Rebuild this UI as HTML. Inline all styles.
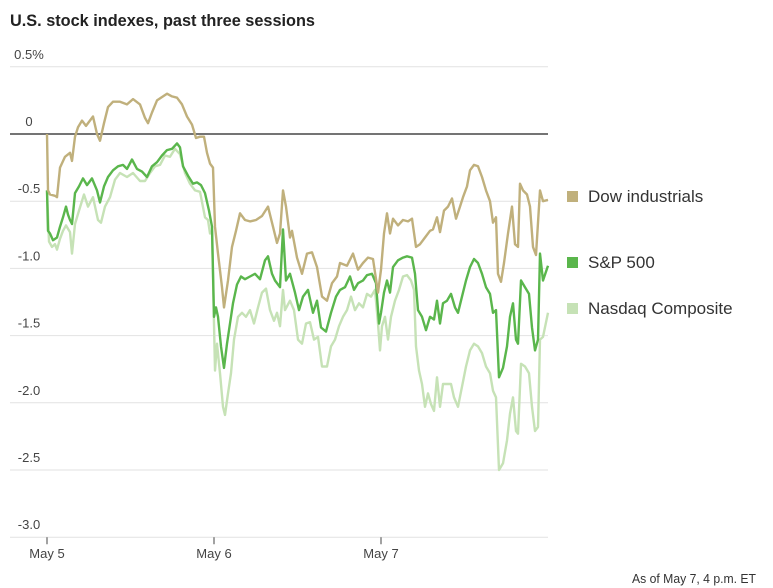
<!DOCTYPE html>
<html><head><meta charset="utf-8">
<style>
body{margin:0;background:#fff;width:773px;height:588px;overflow:hidden;font-family:"Liberation Sans Narrow","Liberation Sans",sans-serif;}
svg{display:block}
</style></head>
<body>
<svg id="chart" width="773" height="588" xmlns="http://www.w3.org/2000/svg">
<text x="10" y="26" font-size="17" font-weight="bold" fill="#222" textLength="305" lengthAdjust="spacingAndGlyphs">U.S. stock indexes, past three sessions</text>
<g id="grid"></g><g id="lines"></g><g id="legend"></g>
<text x="756" y="583" font-size="13" fill="#333" text-anchor="end" textLength="124" lengthAdjust="spacingAndGlyphs">As of May 7, 4 p.m. ET</text>
</svg>
<script>
// time in intraday sample units (0..501 across three sessions), values in %
const yTicks=[0.5,0,-0.5,-1.0,-1.5,-2.0,-2.5,-3.0];
const yTickLabels=["0.5%","0","-0.5","-1.0","-1.5","-2.0","-2.5","-3.0"];
const sessionStarts=[0,167,334];
const sessionLabels=["May 5","May 6","May 7"];
const dowT=[0,1,3,8,10,13,18,23,25,28,31,35,39,46,50,53,57,61,66,73,80,86,93,98,101,105,110,116,120,125,130,135,140,145,149,153,157,160,163,166,168,171,175,177,181,185,189,193,198,203,209,215,221,226,230,233,236,239,243,245,250,255,260,265,270,275,280,285,290,293,300,306,311,316,321,326,331,334,337,340,343,346,351,356,361,365,369,373,378,383,386,390,393,397,401,405,409,413,416,420,423,427,431,435,439,443,446,449,451,454,457,461,465,468,471,473,476,480,483,486,489,493,496,501];
const dowV=[0,-0.42,-0.45,-0.46,-0.47,-0.25,-0.17,-0.14,-0.2,-0.02,0.05,0.1,0.06,0.13,0,-0.05,0.08,0.2,0.24,0.24,0.22,0.26,0.22,0.12,0.08,0.16,0.25,0.28,0.3,0.28,0.27,0.22,0.13,0.07,-0.03,-0.02,-0.02,-0.14,-0.22,-0.25,-0.69,-0.89,-1.14,-1.29,-1.09,-0.84,-0.72,-0.59,-0.64,-0.65,-0.64,-0.61,-0.54,-0.69,-0.81,-0.74,-0.42,-0.54,-0.77,-0.72,-0.92,-1.04,-0.89,-0.88,-0.99,-1.21,-1.24,-1.11,-1.06,-0.96,-0.98,-0.89,-1.01,-0.96,-0.92,-0.93,-1.18,-1.01,-0.74,-0.59,-0.74,-0.63,-0.68,-0.64,-0.65,-0.63,-0.84,-0.82,-0.77,-0.72,-0.71,-0.62,-0.73,-0.57,-0.54,-0.48,-0.63,-0.54,-0.47,-0.39,-0.27,-0.23,-0.24,-0.32,-0.42,-0.5,-0.66,-0.62,-1.04,-1.1,-0.96,-0.74,-0.54,-0.82,-0.84,-0.37,-0.42,-0.45,-0.54,-0.84,-0.9,-0.42,-0.5,-0.49];
const spT=[0,1,3,6,10,13,16,19,21,23,25,28,32,36,40,45,50,53,57,61,66,71,76,80,85,90,95,100,105,110,115,120,125,130,133,136,141,146,150,154,158,162,165,167,169,171,174,177,180,183,186,190,194,198,203,208,213,218,221,225,228,233,236,239,243,248,252,256,261,266,270,274,279,284,289,293,298,303,307,311,316,320,325,329,332,334,337,340,343,346,351,356,360,365,368,371,375,379,383,387,390,393,396,400,404,408,411,415,419,423,427,431,435,439,443,446,449,452,456,460,463,466,469,471,474,478,482,485,488,491,493,496,501];
const spV=[-0.42,-0.72,-0.74,-0.79,-0.77,-0.69,-0.62,-0.54,-0.6,-0.64,-0.67,-0.44,-0.39,-0.33,-0.38,-0.33,-0.42,-0.51,-0.39,-0.32,-0.27,-0.24,-0.23,-0.26,-0.19,-0.26,-0.28,-0.32,-0.24,-0.21,-0.16,-0.12,-0.11,-0.07,-0.1,-0.24,-0.31,-0.37,-0.36,-0.38,-0.44,-0.57,-0.69,-1.36,-1.29,-1.36,-1.58,-1.74,-1.56,-1.41,-1.26,-1.12,-1.06,-1.08,-1.06,-1.04,-1.08,-0.94,-0.91,-1.04,-1.09,-1.14,-0.71,-1.09,-1.04,-1.18,-1.31,-1.21,-1.16,-1.33,-1.24,-1.44,-1.47,-1.33,-1.21,-1.16,-1.14,-1.06,-1.16,-1.11,-1.09,-1.05,-1.04,-1.11,-1.41,-1.33,-1.18,-1.09,-1.18,-0.99,-0.94,-0.92,-0.91,-0.92,-1.04,-1.31,-1.36,-1.46,-1.36,-1.38,-1.24,-1.41,-1.26,-1.24,-1.19,-1.29,-1.33,-1.21,-1.09,-0.99,-0.93,-0.96,-1.04,-1.14,-1.19,-1.33,-1.31,-1.81,-1.74,-1.58,-1.36,-1.26,-1.53,-1.56,-1.09,-1.14,-1.19,-1.44,-1.61,-1.53,-0.89,-1.09,-0.98];
const ndT=[0,2,5,8,10,13,16,19,23,25,28,32,37,41,46,51,54,58,63,68,73,80,86,93,98,103,108,113,118,123,128,133,138,143,148,153,158,161,163,165,168,170,173,176,178,181,184,187,191,195,199,203,207,211,215,219,223,227,230,233,236,238,243,247,251,255,259,263,267,271,275,280,284,288,292,296,300,304,308,312,316,320,324,328,331,333,335,338,341,344,348,352,356,360,364,367,369,372,375,378,381,384,387,390,393,396,400,404,407,411,415,419,423,427,431,435,439,443,446,449,452,456,460,463,466,469,471,474,478,482,485,488,491,493,496,501];
const ndV=[-0.42,-0.8,-0.84,-0.82,-0.86,-0.78,-0.72,-0.68,-0.73,-0.89,-0.67,-0.57,-0.45,-0.54,-0.47,-0.64,-0.66,-0.54,-0.47,-0.34,-0.29,-0.32,-0.29,-0.35,-0.35,-0.29,-0.24,-0.23,-0.16,-0.17,-0.11,-0.15,-0.29,-0.37,-0.42,-0.43,-0.62,-0.64,-0.74,-0.72,-1.76,-1.56,-1.78,-2.03,-2.09,-1.93,-1.78,-1.53,-1.36,-1.33,-1.36,-1.31,-1.41,-1.29,-1.18,-1.15,-1.31,-1.39,-1.33,-1.43,-1.16,-1.31,-1.24,-1.31,-1.53,-1.56,-1.41,-1.4,-1.53,-1.51,-1.73,-1.73,-1.58,-1.53,-1.43,-1.36,-1.31,-1.21,-1.31,-1.26,-1.29,-1.19,-1.21,-1.16,-1.41,-1.61,-1.43,-1.36,-1.53,-1.36,-1.24,-1.16,-1.06,-1.05,-1.09,-1.16,-1.58,-1.76,-1.86,-2.03,-1.93,-2.01,-2.06,-1.81,-2.03,-1.86,-1.86,-1.86,-1.96,-2.03,-1.88,-1.73,-1.61,-1.56,-1.58,-1.63,-1.73,-1.78,-1.91,-1.96,-2.5,-2.45,-2.28,-2.08,-1.96,-2.21,-2.23,-1.71,-1.73,-1.78,-2.03,-2.21,-2.18,-1.53,-1.51,-1.33];
const legendNames=["Dow industrials","S&P 500","Nasdaq Composite"];
const legendValues=[-0.49,-0.98,-1.33];

const NS="http://www.w3.org/2000/svg";
const X0=47,X1=548,TMAX=501,Y0=134,PPU=134.4;
const xs=t=>X0+(t/TMAX)*(X1-X0);
const ys=v=>Y0-v*PPU;
function mk(tag,attrs,parent){const e=document.createElementNS(NS,tag);for(const k in attrs)e.setAttribute(k,attrs[k]);parent.appendChild(e);return e;}
const grid=document.getElementById('grid'),lines=document.getElementById('lines'),legend=document.getElementById('legend');
yTicks.forEach((v,i)=>{
  const y=ys(v);
  const l=mk('line',{x1:10,x2:X1,y1:y,y2:y,stroke:v===0?'#222':'#e2e2e2','stroke-width':v===0?1.2:1},grid);
  
  
  const t=mk('text',{x:29,y:y-8,'font-size':13,fill:'#444','text-anchor':'middle'},grid);
  t.textContent=yTickLabels[i];
  
  
});
sessionStarts.forEach((s,i)=>{
  const x=xs(s);
  const tk=mk('line',{x1:x,x2:x,y1:ys(-3),y2:ys(-3)+7,stroke:'#444','stroke-width':1},grid);
  
  
  const t=mk('text',{x:x,y:ys(-3)+21,'font-size':13,fill:'#444','text-anchor':'middle'},grid);
  t.textContent=sessionLabels[i];
  
  
});
function path(T,V){return T.map((t,i)=>(i?'L':'M')+xs(t).toFixed(1)+' '+ys(V[i]).toFixed(1)).join(' ');}
const series=[[ndT,ndV,'#c6e2b6','nasdaq-line'],[spT,spV,'#5ab64c','sp500-line'],[dowT,dowV,'#c0b07c','dow-line']];
series.forEach(s=>{
  const p=mk('path',{d:path(s[0],s[1]),fill:'none',stroke:s[2],'stroke-width':2.4,'stroke-linejoin':'round'},lines);
  
  
});
const legendColors=['#c0b07c','#5ab64c','#c6e2b6'];
const legendYs=[196,262,308];
legendNames.forEach((n,i)=>{
  const y=legendYs[i];
  const r=mk('rect',{x:567,y:y-5,width:11,height:11,fill:legendColors[i]},legend);
  
  
  const t=mk('text',{x:588,y:y+6,'font-size':17,fill:'#333'},legend);
  t.textContent=n;
  
  
});
</script>
</body></html>
